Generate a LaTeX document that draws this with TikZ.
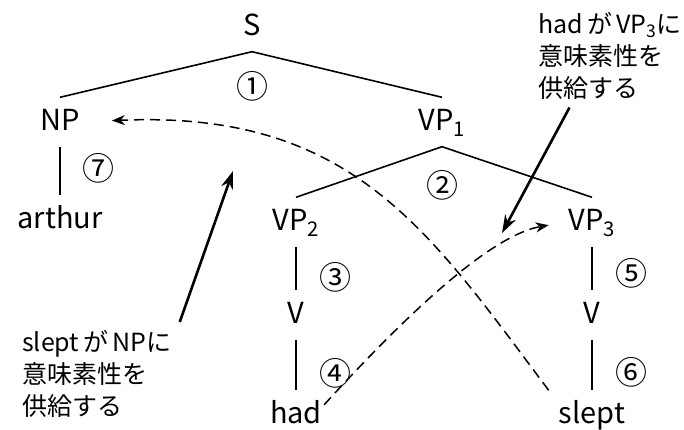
\documentclass[tikz,border=0pt]{standalone}
\usepackage{fontspec}
\setmainfont{Noto Sans CJK JP}
\usetikzlibrary{arrows.meta,positioning}

\tikzset{
  cat/.style={font=\fontsize{29}{34}\selectfont, text height=21pt, text depth=4pt, inner xsep=2pt, inner ysep=12pt},
  num/.style={font=\fontsize{32}{36}\selectfont, inner sep=0pt},
  note/.style={font=\fontsize{25}{32}\selectfont, align=left, inner sep=8pt},
  branch/.style={line width=1.6pt},
  supply/.style={line width=2.6pt, -{Stealth[length=18pt,width=12pt,inset=6pt]}},
  flow/.style={line width=1.5pt, dash pattern=on 10pt off 6pt, -{Stealth[length=13pt,width=10pt,inset=4pt]}}
}

\begin{document}
\begin{tikzpicture}[x=1pt,y=-1pt]
    \useasboundingbox (0,0) rectangle (684,430);
    % tree
    \node[cat] (S) at (252,27) {S};
    \node[cat] (NP) at (60,122) {NP};
    \node[cat] (VP1) at (442,122) {VP\textsubscript{1}};
    \node[cat] (arthur) at (60,220) {arthur};
    \node[cat] (VP2) at (296,222) {VP\textsubscript{2}};
    \node[cat] (VP3) at (592,222) {VP\textsubscript{3}};
    \node[cat] (V2) at (296,315) {V};
    \node[cat] (V3) at (592,315) {V};
    \node[cat] (had) at (296,415) {had};
    \node[cat] (slept) at (592,415) {slept};
    \node[num, below=20pt of S] (n1) {①};
    \node[num, below=24pt of VP1] (n2) {②};
    \draw[branch] (NP.north) -- (S.south) -- (VP1.north);
    \draw[branch] (VP2.north) -- (VP1.south) -- (VP3.north);
    \path[branch, draw]
    (VP2) edge node[num, right=23pt, pos=.7] {③} (V2)
    (V2) edge node[num, right=23pt, pos=.66] {④} (had)
    (VP3) edge node[num, right=23pt, pos=.6] {⑤} (V3)
    (V3) edge node[num, right=23pt, pos=.64] {⑥} (slept)
    (NP) edge node[num, right=22pt, pos=.44] {⑦} (arthur)
    ;
    % notes
    \node[note, anchor=north west] (lblVP) at (530,4) {had\,が\,VP\textsubscript{3}に\\意味素性を\\供給する};
    \node[note, anchor=north west] (lblNP) at (14,322) {slept\,が\,NPに\\意味素性を\\供給する};
    \coordinate (tipNP) at (233,171);
    \coordinate (tipVP) at (502,233);
    \draw[supply] (lblNP.north east) -- (tipNP);
    \draw[supply] (lblVP.232) -- (tipVP);
    \draw[flow, shorten >=30pt] ([xshift=-8pt]slept.north west) .. controls +(-120,-160) and +(270,-12) .. (NP.east);
    \draw[flow, shorten >=18pt] (had.20) .. controls +(55,-60) and +(-85,15) .. (VP3.west);
\end{tikzpicture}
\end{document}
